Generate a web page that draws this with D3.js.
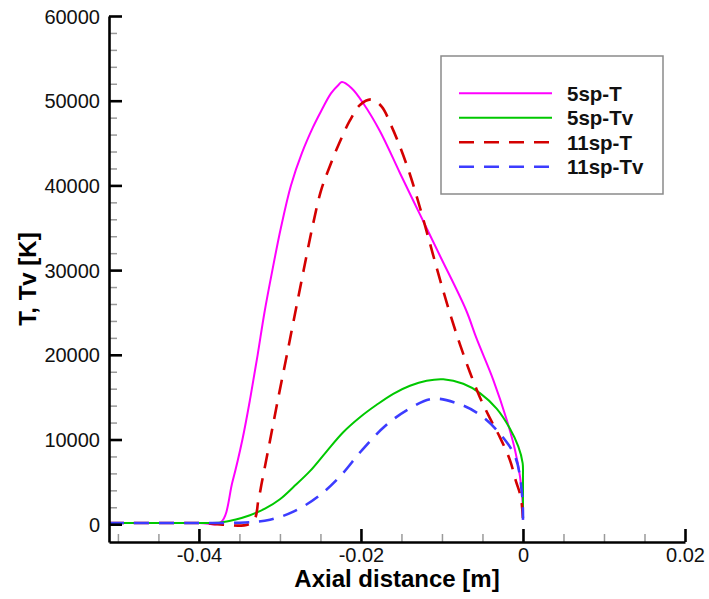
<!DOCTYPE html>
<html>
<head>
<meta charset="utf-8">
<script src="https://cdn.jsdelivr.net/npm/d3@7/dist/d3.min.js"></script>
<style>
  html, body { margin: 0; padding: 0; background: #fff; }
  svg { display: block; }
  text { font-family: "Liberation Sans", Arial, Helvetica, sans-serif; }
</style>
</head>
<body>
<svg id="chart" width="709" height="599"></svg>
<script>
// ---- data (axial distance [m], temperature [K]) ----
const xMajorTicks = [-0.04, -0.02, 0, 0.02];
const xTickLabels = ["-0.04", "-0.02", "0", "0.02"];
const xMinorTicks = [-0.05, -0.045, -0.035, -0.03, -0.025, -0.015, -0.01, -0.005, 0.005, 0.01, 0.015];
const yMajorTicks = [0, 10000, 20000, 30000, 40000, 50000, 60000];
const yMinorTicks = [2000, 4000, 6000, 8000, 12000, 14000, 16000, 18000, 22000, 24000, 26000, 28000,
  32000, 34000, 36000, 38000, 42000, 44000, 46000, 48000, 52000, 54000, 56000, 58000];
const xDomain = [-0.0511, 0.02];
const yDomain = [-2100, 60000];

const seriesNames = ["5sp-T", "5sp-Tv", "11sp-T", "11sp-Tv"];

const sp5T = [
  [-0.0511, 150], [-0.0400, 150], [-0.03732, 200], [-0.03586, 5000], [-0.03463, 10000],
  [-0.03364, 15000], [-0.03275, 20000], [-0.03191, 25000], [-0.03093, 30000], [-0.02988, 35000],
  [-0.02864, 40000], [-0.02728, 43840], [-0.02593, 46850], [-0.02494, 48730], [-0.0237, 50860],
  [-0.02272, 51920], [-0.02235, 52200], [-0.02115, 51470], [-0.01972, 49700], [-0.01765, 46400],
  [-0.01519, 41470], [-0.01272, 36580], [-0.01025, 31700], [-0.00704, 25320], [-0.00572, 21900],
  [-0.00367, 17050], [-0.00201, 12330], [-0.00099, 8790], [-0.00037, 5640], [-0.00004, 2500], [0, 530]
];
const sp5Tv = [
  [-0.0511, 150], [-0.0400, 150], [-0.03732, 200], [-0.03556, 530], [-0.0337, 1060], [-0.03185, 1830],
  [-0.03, 2950], [-0.02836, 4370], [-0.0263, 6260], [-0.02423, 8610], [-0.02219, 10860],
  [-0.02012, 12630], [-0.01806, 14100], [-0.01601, 15400], [-0.01395, 16350], [-0.01189, 16940],
  [-0.00984, 17110], [-0.00737, 16580], [-0.00531, 15480], [-0.00325, 13640], [-0.0016, 11270],
  [-0.00058, 9180], [-0.00004, 7220], [0, 5640], [0, 2100], [0, 900]
];
const sp11T = [
  [-0.0511, 150], [-0.0400, 150], [-0.03346, 200], [-0.03265, 2890], [-0.03222, 5000], [-0.0312, 10000],
  [-0.03019, 15000], [-0.02914, 20000], [-0.02811, 25000], [-0.02707, 30000], [-0.02601, 35000],
  [-0.02494, 39350], [-0.02383, 42300], [-0.02259, 45190], [-0.02136, 47670], [-0.02012, 49500],
  [-0.01868, 50150], [-0.01744, 49300], [-0.01621, 46940], [-0.01519, 44590], [-0.01395, 41290],
  [-0.01272, 37390], [-0.01148, 33140], [-0.01025, 28900], [-0.00901, 24880], [-0.00778, 21230],
  [-0.00654, 17920], [-0.00531, 14970], [-0.00407, 12500], [-0.00284, 10250], [-0.0016, 7540],
  [-0.00086, 5060], [-0.00037, 3600], [-0.00016, 2500], [0, 530]
];
const sp11Tv = [
  [-0.0511, 150], [-0.0400, 150], [-0.0343, 200], [-0.03123, 530], [-0.02827, 1510], [-0.02527, 3280],
  [-0.02251, 5720], [-0.01984, 8790], [-0.01698, 11620], [-0.01411, 13600], [-0.0112, 14800],
  [-0.00819, 14300], [-0.00531, 12920], [-0.00256, 10360], [-0.0009, 7810], [-0.00009, 3280], [0, 530]
];

// ---- layout ----
const svg = d3.select("#chart");
const mLeft = 109, mRight = 685, mTop = 16, mBottom = 542;
const x = d3.scaleLinear().domain(xDomain).range([mLeft, mRight]);
const y = d3.scaleLinear().domain(yDomain).range([mBottom, mTop]);

const series = [
  { name: seriesNames[0], data: sp5T,   color: "#ff00ff", width: 2,   dash: null },
  { name: seriesNames[1], data: sp5Tv,  color: "#00c800", width: 2,   dash: null },
  { name: seriesNames[2], data: sp11T,  color: "#d40000", width: 2.6, dash: "15,10" },
  { name: seriesNames[3], data: sp11Tv, color: "#3c3cff", width: 2.6, dash: "15,10" }
];

const line = d3.line()
  .x(d => x(d[0]))
  .y(d => y(d[1]))
  .curve(d3.curveCatmullRom.alpha(0.5));

const plot = svg.append("g");
series.forEach(s => {
  plot.append("path")
    .attr("d", line(s.data))
    .attr("fill", "none")
    .attr("stroke", s.color)
    .attr("stroke-width", s.width)
    .attr("stroke-dasharray", s.dash)
    .attr("stroke-linejoin", "round");
});

// ---- axes ----
const minorStyle = g => {
  g.select(".domain").remove();
  g.selectAll(".tick line").attr("stroke", "#9a9a9a").attr("stroke-width", 1.5);
};

svg.append("g").attr("transform", `translate(0,${mBottom})`)
  .call(d3.axisBottom(x).tickValues(xMinorTicks).tickSize(-8).tickFormat(""))
  .call(minorStyle);
svg.append("g").attr("transform", `translate(${mLeft},0)`)
  .call(d3.axisLeft(y).tickValues(yMinorTicks).tickSize(-8).tickFormat(""))
  .call(minorStyle);

const xAxis = svg.append("g").attr("transform", `translate(0,${mBottom})`)
  .call(d3.axisBottom(x).tickValues(xMajorTicks).tickSize(-13).tickSizeOuter(0).tickPadding(9)
    .tickFormat((d, i) => xTickLabels[i]));
const yAxis = svg.append("g").attr("transform", `translate(${mLeft},0)`)
  .call(d3.axisLeft(y).tickValues(yMajorTicks).tickSize(-13).tickSizeOuter(0).tickPadding(9)
    .tickFormat(d3.format("d")));

[xAxis, yAxis].forEach(g => {
  g.select(".domain").attr("stroke", "#000").attr("stroke-width", 2.6);
  g.selectAll(".tick line").attr("stroke", "#000").attr("stroke-width", 2.6);
  g.selectAll(".tick text").attr("fill", "#111").style("font-size", "20px")
    .style("font-family", "'Liberation Sans', Arial, sans-serif");
});
xAxis.selectAll(".tick text").attr("dy", null).attr("y", 20);
yAxis.selectAll(".tick text").attr("dy", "0.35em");

// axis titles
svg.append("text")
  .attr("x", (mLeft + mRight) / 2).attr("y", 587)
  .attr("text-anchor", "middle")
  .style("font-size", "24px").style("font-weight", "bold")
  .text("Axial distance [m]");
svg.append("text")
  .attr("transform", `translate(36,${(mTop + mBottom) / 2}) rotate(-90)`)
  .attr("text-anchor", "middle")
  .style("font-size", "24px").style("font-weight", "bold")
  .text("T, Tv [K]");

// ---- legend ----
const lg = svg.append("g");
lg.append("rect")
  .attr("x", 441).attr("y", 56).attr("width", 222).attr("height", 138)
  .attr("fill", "#fff").attr("stroke", "#8a8a8a").attr("stroke-width", 1.5);
series.forEach((s, i) => {
  const cy = 93.3 + i * 24.5;
  lg.append("line")
    .attr("x1", 459).attr("x2", 552).attr("y1", cy).attr("y2", cy)
    .attr("stroke", s.color).attr("stroke-width", s.width)
    .attr("stroke-dasharray", s.dash);
  lg.append("text")
    .attr("x", 567).attr("y", cy).attr("dy", "0.36em")
    .style("font-size", "20.5px").style("font-weight", "bold")
    .attr("fill", "#111")
    .text(s.name);
});
</script>
</body>
</html>
